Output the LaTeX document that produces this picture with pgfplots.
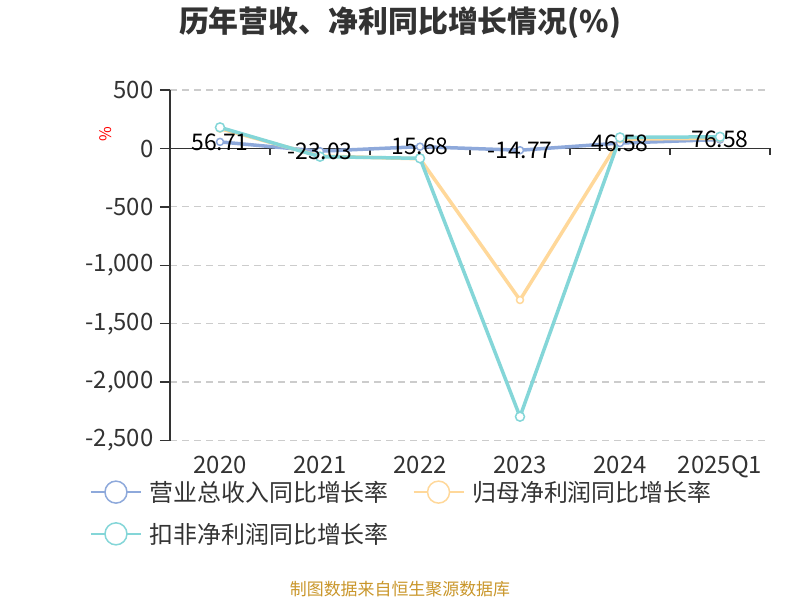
\documentclass[border=0pt]{standalone}
\usepackage{pgfplots}
\pgfplotsset{compat=1.18}
\usepackage{pgfplotstable}
\usepackage{fontspec}
\setmainfont{Noto Sans CJK SC}
\definecolor{cblue}{HTML}{8EA9DB}
\definecolor{corange}{HTML}{FFD89A}
\definecolor{cteal}{HTML}{84D6D8}
\definecolor{ctext}{HTML}{333333}
\definecolor{cgrid}{HTML}{CCCCCC}
\definecolor{cfoot}{HTML}{C9962A}
\pgfplotstableread{
x y label
0 56.71 56.71
1 -23.03 -23.03
2 15.68 15.68
3 -14.77 -14.77
4 46.58 46.58
5 76.58 76.58
}\revenue
\pgfplotstableread{
x y
0 170
1 -65
2 -88
3 -1297
4 80
5 88
}\netprofit
\pgfplotstableread{
x y
0 181
1 -70
2 -84
3 -2296
4 95
5 100
}\deducted
\begin{document}
\begin{tikzpicture}
\useasboundingbox (0,0) rectangle (800bp,600bp);
\begin{axis}[
  at={(170bp,159.5bp)}, anchor=south west,
  scale only axis, width=600bp, height=350.4bp,
  xmin=-0.5, xmax=5.5, ymin=-2500, ymax=500,
  axis y line*=left, axis x line*=bottom,
  x axis line style={draw=none},
  y axis line style={draw=ctext, line width=1.5bp},
  xtick={0,1,2,3,4,5},
  xticklabels={2020,2021,2022,2023,2024,2025Q1},
  xtick style={draw=none},
  ytick={-2500,-2000,-1500,-1000,-500,0,500},
  ytick style={draw=ctext, line width=1.5bp},
  tick align=outside, major tick length=10bp,
  /pgf/number format/1000 sep={,},
  /pgf/number format/assume math mode=true,
  ticklabel style={font=\fontsize{24}{26}\selectfont, text=ctext},
  yticklabel style={xshift=-3bp},
  xticklabel style={yshift=-2bp},
  ymajorgrids, grid style={draw=cgrid, dash pattern=on 7bp off 5bp, line width=1.2bp},
  ylabel={\%}, ylabel style={at={(axis description cs:-0.107,0.875)}, anchor=center, text=red, font=\fontsize{16}{17}\selectfont},
  clip=false,
  legend columns=2,
  legend style={at={(axis description cs:-0.1333,-0.11)}, anchor=north west, draw=none, fill=none,
    font=\fontsize{24}{28}\selectfont, text=ctext, inner sep=0pt,
    /tikz/every odd column/.style={column sep=6bp},
    /tikz/every even column/.style={column sep=22bp},
    row sep=16bp},
  legend cell align=left,
]
\draw[ctext, line width=1.5bp] (axis cs:-0.5,0) -- (axis cs:5.5,0);
\draw[ctext, line width=1.5bp]
  (axis cs:-0.5,0) -- (axis cs:-0.5,-52)
  (axis cs:0.5,0) -- (axis cs:0.5,-52)
  (axis cs:1.5,0) -- (axis cs:1.5,-52)
  (axis cs:2.5,0) -- (axis cs:2.5,-52)
  (axis cs:3.5,0) -- (axis cs:3.5,-52)
  (axis cs:4.5,0) -- (axis cs:4.5,-52)
  (axis cs:5.5,0) -- (axis cs:5.5,-52);
\addplot[cblue, line width=3.5bp, mark=*, mark size=3.5bp, mark options={fill=white, line width=1.5bp},
  legend image code/.code={\draw[cblue, line width=1.5bp] (0bp,0bp) -- (50bp,0bp); \draw[cblue, line width=1.5bp, fill=white] (25bp,0bp) circle (11bp);}]
  table[x=x,y=y] {\revenue};
\addlegendentry{营业总收入同比增长率}
\addplot[corange, line width=3.5bp, mark=*, mark size=3.5bp, mark options={fill=white, line width=1.5bp},
  legend image code/.code={\draw[corange, line width=1.5bp] (0bp,0bp) -- (50bp,0bp); \draw[corange, line width=1.5bp, fill=white] (25bp,0bp) circle (11bp);}]
  table[x=x,y=y] {\netprofit};
\addlegendentry{归母净利润同比增长率}
\addplot[cteal, line width=3.5bp, mark=*, mark size=4.5bp, mark options={fill=white, line width=1.5bp},
  legend image code/.code={\draw[cteal, line width=1.5bp] (0bp,0bp) -- (50bp,0bp); \draw[cteal, line width=1.5bp, fill=white] (25bp,0bp) circle (11bp);}]
  table[x=x,y=y] {\deducted};
\addlegendentry{扣非净利润同比增长率}
\addplot[draw=none, mark=none, forget plot, nodes near coords, point meta=explicit symbolic,
  every node near coord/.append style={anchor=center, font=\fontsize{23}{25}\selectfont, text=black}]
  table[x=x,y=y,meta=label] {\revenue};
\end{axis}
\node[font=\fontsize{30}{33}\selectfont\bfseries, text=ctext] at (400bp,577bp) {历年营收、净利同比增长情况(\%)};
\node[font=\fontsize{17}{19}\selectfont, text=cfoot] at (400bp,11bp) {制图数据来自恒生聚源数据库};
\end{tikzpicture}
\end{document}
